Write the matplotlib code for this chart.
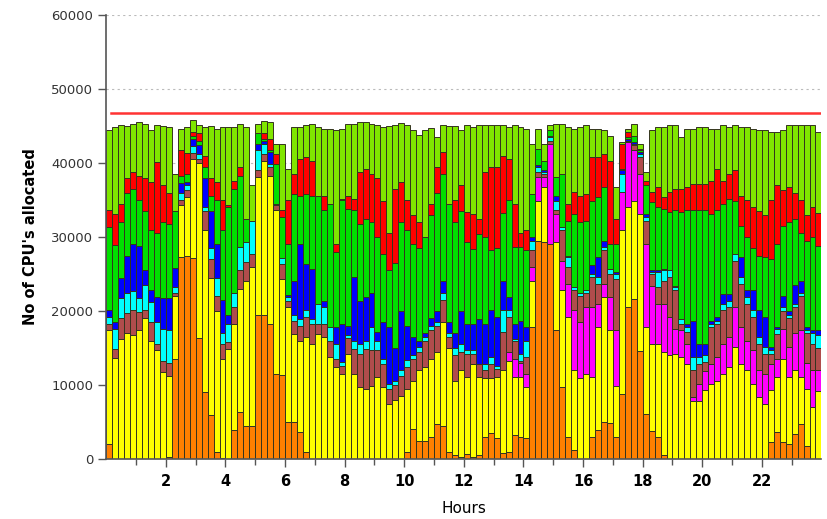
import numpy as np
import matplotlib.pyplot as plt

plt.rcParams['font.family'] = ['DejaVu Sans']

# one bar every 12 minutes, 120 bars over the day
hours_per_bar = 0.2

# cumulative tops of each stacked band, in thousands of CPUs
top_orange = [
    2.0, 0, 0, 0, 0, 0, 0, 0, 0, 0,
    0.3, 13.5, 27.3, 27.5, 27.2, 16.3, 9.0, 6.0, 1.0, 0.2,
    0, 3.9, 6.3, 4.5, 4.5, 19.4, 19.4, 18.3, 11.5, 11.3,
    5.0, 5.0, 3.6, 0.9, 0, 0, 0, 0, 0, 0,
    0, 0, 0, 0, 0, 0, 0, 0, 0, 0,
    1.0, 4.1, 2.5, 2.5, 3.0, 4.7, 4.5, 1.0, 0.5, 0.3,
    0.7, 0.3, 0.5, 3.0, 3.5, 2.8, 0.8, 1.0, 3.2, 3.0,
    2.9, 17.8, 29.5, 29.3, 29.1, 17.4, 9.7, 3.0, 1.2, 0,
    0, 3.0, 3.9, 5.0, 4.8, 3.0, 8.8, 20.5, 21.6, 14.6,
    6.1, 3.8, 3.0, 0.5, 0, 0, 0, 0, 0, 0,
    0, 0, 0, 0, 0, 0, 0, 0, 0, 0,
    0, 2.3, 3.6, 2.3, 2.0, 3.4, 4.7, 1.8, 0, 0]
top_yellow = [
    17.4, 13.7, 16.2, 17.0, 16.8, 17.5, 19.0, 16.0, 14.7, 11.7,
    11.2, 22.0, 34.3, 35.4, 40.6, 40.0, 31.0, 24.5, 20.0, 13.5,
    14.9, 18.3, 23.0, 24.1, 25.9, 38.1, 40.3, 38.3, 33.6, 24.3,
    20.5, 16.9, 16.0, 16.5, 15.6, 16.9, 16.5, 13.8, 12.4, 11.5,
    14.2, 11.5, 9.7, 9.5, 9.9, 11.1, 9.7, 7.5, 8.0, 8.5,
    9.5, 10.5, 12.0, 12.5, 13.5, 14.5, 18.5, 15.0, 10.5, 12.0,
    11.1, 12.9, 11.1, 10.9, 10.9, 11.1, 12.0, 13.3, 11.1, 11.1,
    9.7, 24.1, 34.9, 36.7, 29.1, 29.3, 22.8, 19.2, 12.0, 11.0,
    11.5, 11.1, 17.8, 21.9, 17.4, 9.9, 30.9, 34.0, 34.9, 33.1,
    17.8, 15.6, 15.6, 14.4, 14.0, 14.2, 13.8, 12.9, 7.9, 7.9,
    9.3, 10.2, 10.6, 11.5, 12.4, 15.1, 12.9, 12.0, 10.2, 8.4,
    7.5, 9.3, 11.1, 13.5, 11.1, 12.0, 11.1, 9.5, 7.0, 9.2]
top_magenta = [
    17.4, 13.7, 16.2, 17.0, 16.8, 17.5, 19.0, 16.0, 14.7, 11.7,
    11.2, 22.0, 34.3, 35.4, 40.6, 40.0, 31.0, 24.5, 20.0, 13.5,
    14.9, 18.3, 23.0, 24.1, 25.9, 38.1, 40.3, 38.3, 33.6, 24.3,
    20.5, 16.9, 16.0, 16.5, 15.6, 16.9, 16.5, 13.8, 12.4, 11.5,
    14.2, 11.5, 9.7, 9.5, 9.9, 11.1, 9.7, 7.5, 8.0, 8.5,
    9.5, 10.5, 12.0, 12.5, 13.5, 14.5, 18.5, 15.0, 10.5, 12.0,
    11.1, 12.9, 11.1, 10.9, 10.9, 11.1, 12.0, 14.5, 13.5, 13.0,
    11.5, 25.9, 38.1, 38.1, 42.6, 33.1, 26.8, 23.7, 20.1, 18.5,
    20.5, 20.5, 21.0, 23.7, 21.9, 17.4, 36.1, 42.8, 41.7, 38.5,
    29.1, 23.4, 21.0, 21.0, 19.2, 17.6, 17.4, 15.6, 8.4, 10.2,
    11.9, 12.9, 13.8, 15.6, 16.5, 20.5, 17.8, 16.0, 14.7, 12.0,
    11.5, 12.9, 13.5, 17.6, 15.1, 17.0, 17.5, 13.0, 12.0, 12.0]
top_brown = [
    18.2, 14.9, 19.0, 19.7, 20.2, 19.8, 20.2, 18.5, 15.5, 13.3,
    13.0, 22.5, 35.0, 36.3, 41.4, 40.6, 33.5, 27.0, 22.0, 15.5,
    15.8, 20.5, 25.5, 26.6, 27.7, 39.0, 41.2, 39.4, 34.3, 26.4,
    21.4, 18.7, 18.0, 19.2, 18.3, 18.3, 18.3, 16.0, 13.5, 12.6,
    16.3, 14.9, 14.2, 14.9, 14.7, 14.7, 12.9, 9.5, 10.0, 11.2,
    12.5, 13.5, 14.5, 16.0, 17.5, 18.0, 21.5, 16.5, 14.0, 14.5,
    14.2, 14.2, 12.9, 12.0, 12.9, 12.2, 17.1, 19.2, 16.0, 13.3,
    13.8, 28.2, 38.8, 38.5, 43.0, 33.6, 30.9, 25.9, 22.8, 22.0,
    22.5, 24.6, 23.7, 28.2, 25.0, 24.3, 36.1, 42.8, 42.4, 40.8,
    32.2, 25.0, 23.2, 24.1, 24.6, 22.8, 18.3, 17.1, 12.0, 12.9,
    13.1, 17.8, 18.3, 20.1, 20.5, 26.8, 23.7, 21.0, 19.2, 15.6,
    14.2, 14.2, 16.9, 20.0, 19.0, 20.5, 22.0, 17.0, 15.5, 15.0]
top_cyan = [
    19.2, 17.6, 21.7, 22.5, 22.7, 21.8, 23.5, 21.2, 18.5, 17.6,
    17.5, 23.2, 36.0, 37.0, 42.3, 41.2, 34.0, 28.5, 24.5, 17.0,
    18.3, 22.5, 28.6, 29.3, 32.2, 41.7, 42.6, 39.9, 34.5, 27.1,
    21.9, 19.4, 18.9, 20.1, 18.9, 20.9, 20.5, 17.8, 15.6, 13.1,
    16.8, 16.0, 15.6, 16.0, 17.8, 16.0, 13.5, 10.2, 10.5, 12.0,
    13.4, 14.0, 15.2, 16.5, 18.0, 18.5, 22.5, 17.0, 15.0, 15.5,
    14.7, 14.7, 12.9, 12.9, 13.8, 12.6, 20.1, 20.1, 16.2, 14.2,
    16.0, 29.5, 39.4, 38.8, 43.5, 34.9, 31.3, 27.3, 23.2, 22.5,
    22.8, 25.0, 24.6, 28.6, 25.7, 25.0, 38.5, 43.0, 42.6, 41.2,
    32.7, 25.3, 25.3, 25.5, 25.5, 23.2, 18.9, 17.8, 13.8, 13.8,
    14.0, 18.3, 18.7, 21.0, 21.4, 27.7, 24.6, 21.9, 20.1, 16.5,
    15.1, 14.7, 17.6, 20.5, 19.4, 21.0, 22.5, 17.5, 17.0, 16.8]
top_blue = [
    20.1, 18.5, 24.5, 27.5, 29.0, 28.8, 25.5, 22.8, 21.9, 21.8,
    21.7, 25.8, 37.3, 37.5, 43.2, 42.5, 38.0, 33.5, 29.0, 21.5,
    19.4, 22.5, 28.6, 29.3, 32.2, 42.6, 43.0, 41.5, 34.5, 27.1,
    22.1, 24.1, 29.1, 26.4, 25.7, 20.9, 21.4, 17.8, 17.8, 18.3,
    18.0, 24.6, 21.4, 21.9, 22.5, 17.1, 18.5, 17.8, 15.0, 20.0,
    18.0, 16.5, 16.0, 17.0, 19.0, 20.0, 24.0, 18.5, 17.0, 20.0,
    18.3, 18.3, 18.9, 18.3, 20.1, 19.2, 24.1, 21.9, 18.3, 18.7,
    17.8, 30.0, 39.7, 39.0, 43.7, 35.6, 31.3, 27.5, 23.2, 22.5,
    22.8, 26.2, 27.3, 29.5, 25.7, 25.3, 39.0, 43.3, 42.8, 41.5,
    33.1, 25.5, 25.5, 25.7, 25.5, 23.4, 18.9, 18.3, 18.7, 15.6,
    15.6, 18.7, 19.2, 22.3, 22.3, 27.7, 27.3, 22.8, 22.8, 20.1,
    19.2, 15.1, 17.8, 22.0, 20.0, 23.5, 24.0, 17.8, 17.5, 17.5]
top_green = [
    31.3, 28.9, 32.0, 36.0, 36.5, 35.0, 33.5, 31.0, 30.5, 32.0,
    31.8, 33.5, 38.2, 38.5, 43.7, 43.0, 39.5, 35.5, 35.0, 31.0,
    34.0, 36.5, 38.3, 32.5, 32.2, 44.0, 43.3, 41.7, 39.9, 32.7,
    29.1, 35.8, 35.6, 35.8, 35.6, 35.6, 33.6, 34.5, 28.0, 35.0,
    33.8, 33.6, 31.8, 32.5, 32.0, 30.0, 27.7, 25.5, 26.5, 32.0,
    31.0, 29.0, 28.5, 30.0, 33.0, 36.0, 38.5, 34.5, 32.0, 33.5,
    29.3, 28.4, 30.4, 30.0, 28.2, 28.5, 33.2, 35.0, 28.6, 28.6,
    28.2, 35.8, 41.9, 40.3, 44.4, 38.1, 38.5, 32.2, 33.1, 32.0,
    32.2, 34.9, 35.4, 36.7, 29.1, 29.1, 39.2, 43.5, 43.7, 41.7,
    37.0, 34.7, 34.0, 33.8, 33.4, 33.6, 33.4, 33.6, 33.6, 33.6,
    33.6, 33.1, 33.6, 34.5, 35.2, 34.9, 31.5, 30.0, 28.5, 27.5,
    27.3, 27.0, 29.0, 31.5, 32.0, 32.5, 30.5, 29.5, 30.0, 28.8]
top_red = [
    33.7, 33.1, 34.5, 38.0, 38.8, 38.3, 38.0, 37.5, 40.1, 37.0,
    36.0, 33.5, 41.7, 41.3, 44.2, 44.0, 41.0, 38.0, 37.5, 35.0,
    34.3, 37.6, 39.4, 32.5, 32.2, 44.0, 44.0, 43.3, 41.2, 33.6,
    35.0, 38.5, 40.6, 40.8, 40.3, 35.6, 35.6, 34.5, 29.1, 35.2,
    35.6, 35.2, 38.8, 39.2, 38.5, 38.0, 34.9, 30.5, 36.5, 37.5,
    35.0, 33.0, 32.0, 30.0, 34.5, 39.5, 41.5, 34.5, 35.0, 37.0,
    33.4, 33.1, 32.5, 38.8, 39.5, 39.5, 41.0, 40.6, 34.5, 30.5,
    30.9, 35.8, 41.9, 40.3, 44.4, 38.1, 38.5, 34.5, 36.1, 35.5,
    35.8, 40.8, 40.8, 41.2, 40.3, 32.5, 42.6, 44.2, 43.7, 41.9,
    37.6, 36.1, 36.7, 35.4, 36.1, 36.5, 36.5, 36.7, 37.2, 37.2,
    37.2, 37.6, 39.2, 37.6, 38.5, 39.0, 35.5, 35.0, 34.0, 33.5,
    33.0, 35.0, 37.0, 36.3, 36.8, 36.0, 35.0, 33.0, 34.0, 33.2]
top_total = [
    44.4, 44.8, 45.1, 45.0, 45.3, 45.5, 45.3, 44.4, 45.1, 45.0,
    44.8, 38.5, 44.6, 44.9, 45.8, 45.2, 44.8, 45.0, 44.6, 44.9,
    44.9, 44.9, 45.3, 44.9, 37.0, 45.3, 45.7, 45.5, 42.6, 42.6,
    39.2, 44.9, 44.9, 45.1, 45.3, 44.9, 44.6, 44.6, 44.4, 44.6,
    45.3, 45.3, 45.5, 45.6, 45.3, 45.1, 44.9, 45.0, 45.2, 45.4,
    45.1, 44.5, 43.8, 44.5, 44.7, 43.5, 45.2, 45.0, 45.0, 44.5,
    45.1, 44.9, 45.1, 45.1, 45.1, 45.1, 45.1, 44.9, 45.1, 44.9,
    44.6, 42.6, 44.6, 42.6, 45.1, 45.3, 45.3, 44.9, 44.6, 44.8,
    45.1, 44.6, 44.6, 44.4, 43.7, 36.7, 42.8, 44.6, 45.3, 42.6,
    38.8, 44.4, 44.9, 44.9, 45.1, 45.1, 43.5, 44.6, 44.6, 44.9,
    44.9, 44.6, 44.6, 45.1, 44.9, 45.1, 44.9, 44.9, 44.6, 44.4,
    44.4, 44.2, 44.2, 44.5, 45.1, 45.2, 45.1, 45.1, 45.1, 44.2]

cpu_limit = 46700

band_tops = [top_orange, top_yellow, top_magenta, top_brown, top_cyan,
             top_blue, top_green, top_red, top_total]
band_colors = ['#ff8000', '#ffff00', '#ff00ff', '#b04c4c', '#00ffff',
               '#0000ff', '#00e000', '#ff0000', '#80e600']

tops = np.array(band_tops) * 1000
tops = np.maximum.accumulate(tops, axis=0)
bottoms = np.vstack([np.zeros(tops.shape[1]), tops[:-1]])
heights = tops - bottoms
x = np.arange(tops.shape[1]) * hours_per_bar

fig = plt.figure(figsize=(8.27, 5.19), dpi=100)
ax = fig.add_axes([0.1285, 0.1156, 0.8648, 0.8555])

for h, b, c in zip(heights, bottoms, band_colors):
    keep = h > 0
    ax.bar(x[keep], h[keep], width=hours_per_bar, bottom=b[keep], align='edge',
           color=c, edgecolor='#34341f', linewidth=0.7, zorder=2)

ax.axhline(cpu_limit, xmin=0.007, xmax=1.0, color='#ff3333', linewidth=1.8, zorder=3)

ax.set_xlim(0, 24)
ax.set_ylim(0, 60000)
ax.set_yticks(np.arange(0, 60001, 10000))
ax.set_yticklabels([str(v) for v in range(0, 60001, 10000)], fontsize=9.5, color='#333333')
ax.set_xticks(np.arange(2, 23, 2))
ax.set_xticklabels([str(v) for v in range(2, 23, 2)], fontsize=10.5, fontweight='bold')
ax.set_xticks(np.arange(1, 24, 2), minor=True)
ax.tick_params(axis='both', which='major', length=6, width=1, color='#555555')
ax.tick_params(axis='x', which='minor', length=4, width=1, color='#555555')
ax.tick_params(axis='x', which='major', pad=5)

ax.yaxis.grid(True, linestyle=(0, (2, 3)), color='#bbbbbb', linewidth=0.8)
ax.set_axisbelow(True)

for side in ['top', 'right']:
    ax.spines[side].set_visible(False)
for side in ['left', 'bottom']:
    ax.spines[side].set_color('#555555')
    ax.spines[side].set_linewidth(1.2)

ax.set_ylabel("No of CPU's allocated", fontsize=10.5, fontweight='bold')
ax.yaxis.set_label_coords(-0.096, 0.5)
ax.set_xlabel('Hours', fontsize=11)
ax.xaxis.set_label_coords(0.5, -0.095)
ax.xaxis.label.set_va('top')

fig.savefig('out.png', dpi=100)
